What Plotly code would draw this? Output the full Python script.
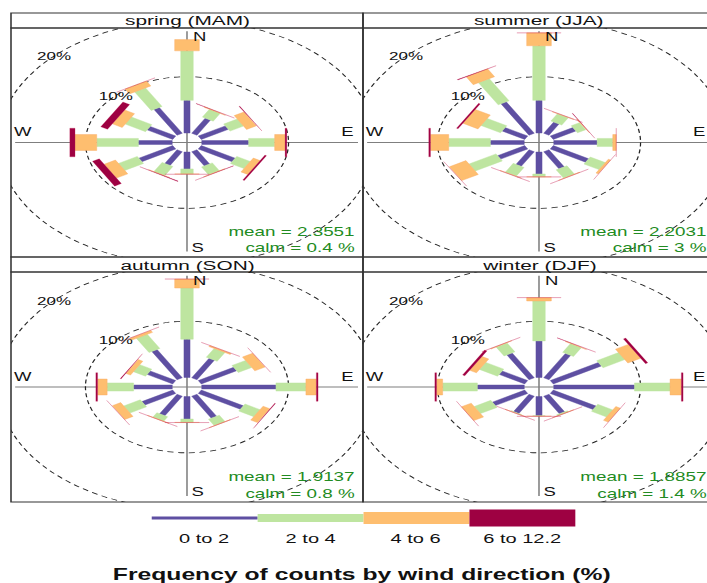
import numpy as np
import plotly.graph_objects as go

# ---------------------------------------------------------------- data
# wind direction sectors, degrees clockwise from north
directions = [0, 30, 60, 90, 120, 150, 180, 210, 240, 270, 300, 330]

# frequency (%) of counts in each wind-speed interval, per sector
spring_0_2 = [5.8, 3.1, 3.6, 5.4, 4.5, 2.9, 3.0, 2.8, 4.5, 3.9, 3.4, 5.3]
spring_2_4 = [8.8, 1.6, 1.8, 3.0, 1.8, 1.6, 0.9, 1.9, 2.5, 4.8, 2.7, 3.8]
spring_4_6 = [2.0, 0.1, 1.3, 1.2, 0.9, 0.05, 0.05, 0.05, 1.5, 2.5, 1.3, 1.0]
spring_6_12 = [0.0, 0.05, 0.1, 0.2, 0.2, 0.05, 0.05, 0.1, 0.9, 0.6, 0.9, 0.05]

summer_0_2 = [5.8, 2.3, 3.0, 5.0, 4.7, 3.5, 3.9, 3.0, 3.6, 3.9, 3.0, 6.45]
summer_2_4 = [9.7, 1.5, 1.1, 1.8, 2.0, 1.7, 0.5, 1.8, 3.6, 4.8, 2.6, 4.55]
summer_4_6 = [2.3, 0.05, 0.1, 0.4, 0.3, 0.05, 0.02, 0.05, 2.2, 2.1, 2.0, 1.6]
summer_6_12 = [0.1, 0.05, 0.05, 0.05, 0.05, 0.05, 0.02, 0.05, 0.1, 0.2, 0.2, 0.1]

autumn_0_2 = [6.8, 4.0, 4.7, 8.55, 5.6, 4.5, 4.0, 4.0, 4.1, 4.45, 3.4, 5.8]
autumn_2_4 = [9.1, 1.8, 1.8, 3.45, 2.0, 1.3, 0.6, 0.9, 2.2, 3.05, 1.6, 2.9]
autumn_4_6 = [1.6, 0.2, 1.35, 1.2, 0.9, 0.05, 0.02, 0.05, 1.1, 1.1, 0.6, 0.4]
autumn_6_12 = [0.1, 0.05, 0.1, 0.2, 0.1, 0.02, 0.02, 0.02, 0.1, 0.2, 0.1, 0.05]

winter_0_2 = [6.5, 5.0, 6.4, 9.3, 5.7, 3.6, 3.4, 3.55, 4.3, 5.4, 3.4, 5.1]
winter_2_4 = [7.1, 1.8, 2.9, 4.1, 2.0, 0.2, 0.1, 0.1, 2.2, 4.0, 2.4, 1.8]
winter_4_6 = [0.6, 0.1, 1.7, 1.3, 0.6, 0.02, 0.02, 0.03, 1.3, 0.7, 0.9, 0.1]
winter_6_12 = [0.02, 0.03, 0.3, 0.2, 0.05, 0.02, 0.02, 0.02, 0.1, 0.2, 0.3, 0.03]

season_titles = ["spring (MAM)", "summer (JJA)", "autumn (SON)", "winter (DJF)"]
mean_speed = ["2.3551", "2.2031", "1.9137", "1.8857"]
calm_pct = ["0.4", "3", "0.8", "1.4"]

interval_labels = ["0 to 2", "2 to 4", "4 to 6", "6 to 12.2"]
interval_colours = ["#5E4FA2", "#BEE5A0", "#FEBE6F", "#9E0142"]
interval_edges = ["rgba(94,79,162,0.6)", "rgba(190,229,160,0.6)",
                  "rgba(250,170,100,0.55)", "rgba(200,40,90,0.32)"]
grid_levels = [10, 20]
key_title = "Frequency of counts by wind direction (%)"

season_data = [
    [spring_0_2, spring_2_4, spring_4_6, spring_6_12],
    [summer_0_2, summer_2_4, summer_4_6, summer_6_12],
    [autumn_0_2, autumn_2_4, autumn_4_6, autumn_6_12],
    [winter_0_2, winter_2_4, winter_4_6, winter_6_12],
]

# ---------------------------------------------------------------- geometry
W_OUT = 707                   # displayed page width
W0 = 458                      # drawing width before the horizontal stretch
H0 = 583
STRETCH = W_OUT / W0
K = 5.623                     # pixels per percent
OFFSET = 1.7                  # radius of the empty hub, in %
HALF_WIDTHS = [0.35, 0.72, 1.42, 2.55]   # paddle half widths per interval, in %
FONT = "Liberation Sans, Arial, Helvetica, sans-serif"

col_edges = [11 / STRETCH, 363 / STRETCH, 715 / STRETCH]
row_edges = [(28, 257), (272, 502)]
strip_rows = [(13, 28), (257, 272)]
panel_pos = [(0, 0), (1, 0), (0, 1), (1, 1)]   # (column, row) of each season

half_x = (col_edges[1] - col_edges[0]) / 2 / K


def paddle(theta_deg, lo, hi, w):
    t = np.radians(theta_deg)
    s, c = np.sin(t), np.cos(t)
    l1, l2 = lo + OFFSET, hi + OFFSET
    xs = [l1 * s - w * c, l1 * s + w * c, l2 * s + w * c, l2 * s - w * c, l1 * s - w * c]
    ys = [l1 * c + w * s, l1 * c - w * s, l2 * c - w * s, l2 * c + w * s, l1 * c + w * s]
    return xs, ys


def label(**kw):
    base = dict(showarrow=False, xanchor="center", yanchor="middle")
    base.update(kw)
    return base


fig = go.Figure()
shapes = []
annotations = []

for p, (col, row) in enumerate(panel_pos):
    ax = "" if p == 0 else str(p + 1)
    xd0 = col_edges[col] / W0
    xd1 = min(col_edges[col + 1] / W0, 1.0)
    top, bottom = row_edges[row]
    half_y = (bottom - top) / 2 / K
    x_hi = -half_x + (min(col_edges[col + 1], W0) - col_edges[col]) / K
    fig.update_layout(**{
        f"xaxis{ax}": dict(domain=[xd0, xd1], range=[-half_x, x_hi], visible=False,
                           fixedrange=True),
        f"yaxis{ax}": dict(domain=[1 - bottom / H0, 1 - top / H0], range=[-half_y, half_y],
                           visible=False, fixedrange=True),
    })
    xr, yr = f"x{ax}", f"y{ax}"

    # compass cross
    shapes.append(dict(type="line", xref=xr, yref=yr, x0=-19.8, x1=19.7, y0=0, y1=0,
                       line=dict(color="#7f7f7f", width=1), layer="below"))
    shapes.append(dict(type="line", xref=xr, yref=yr, x0=0, x1=0, y0=-19.4, y1=19.8,
                       line=dict(color="#7f7f7f", width=1), layer="below"))
    # dashed frequency rings
    for g in grid_levels:
        r = g + OFFSET
        shapes.append(dict(type="circle", xref=xr, yref=yr, x0=-r, x1=r, y0=-r, y1=r,
                           line=dict(color="#222222", width=0.8, dash="4px,3px"),
                           layer="below"))
        annotations.append(label(xref=xr, yref=yr, x=-r * np.sqrt(0.5), y=r * np.sqrt(0.5),
                                 text=f"{g}%",
                                 font=dict(family=FONT, size=11, color="#111111")))
    # compass labels
    for lab, lx, ly in [("N", 1.4, 18.85), ("S", 1.15, -18.7), ("W", -18.8, 1.8), ("E", 18.4, 1.8)]:
        annotations.append(label(xref=xr, yref=yr, x=lx, y=ly, text=lab,
                                 font=dict(family=FONT, size=12, color="#111111")))

    # paddles, one trace per speed interval
    series = season_data[p]
    cum = np.zeros(len(directions))
    for j, vals in enumerate(series):
        xs, ys = [], []
        for k, d in enumerate(directions):
            lo, hi = cum[k], cum[k] + vals[k]
            if vals[k] > 0:
                px, py = paddle(d, lo, hi, HALF_WIDTHS[j])
                xs += px + [None]
                ys += py + [None]
        cum = cum + np.array(vals)
        fig.add_trace(go.Scatter(x=xs, y=ys, xaxis=xr, yaxis=yr, mode="lines",
                                 fill="toself", fillcolor=interval_colours[j],
                                 line=dict(color=interval_edges[j], width=0.6),
                                 hoverinfo="skip", showlegend=False))

    # panel frame and strip
    x0p = col_edges[col] / W0
    x1p = col_edges[col + 1] / W0
    st_top, st_bot = strip_rows[row]
    shapes.append(dict(type="rect", xref="paper", yref="paper", x0=x0p, x1=x1p,
                       y0=1 - bottom / H0, y1=1 - top / H0,
                       line=dict(color="#333333", width=1)))
    shapes.append(dict(type="rect", xref="paper", yref="paper", x0=x0p, x1=x1p,
                       y0=1 - st_bot / H0, y1=1 - st_top / H0,
                       line=dict(color="#333333", width=1)))
    annotations.append(label(xref="paper", yref="paper", x=(x0p + x1p) / 2,
                             y=1 - (st_top + st_bot + 1) / 2 / H0,
                             text=season_titles[p],
                             font=dict(family=FONT, size=13.5, color="#111111")))

    # statistics text
    xr_txt = (col_edges[col + 1] - 3.0) / W0
    annotations.append(label(xref="paper", yref="paper", x=xr_txt, y=1 - (bottom - 25) / H0,
                             xanchor="right", text=f"mean = {mean_speed[p]}",
                             font=dict(family=FONT, size=12.2, color="forestgreen")))
    annotations.append(label(xref="paper", yref="paper", x=xr_txt, y=1 - (bottom - 8.5) / H0,
                             xanchor="right", text=f"calm = {calm_pct[p]} %",
                             font=dict(family=FONT, size=12.2, color="forestgreen")))

# speed-interval key
key_x0 = 98.3
key_seg = 68.6
key_y = 518
key_heights = [3, 8, 12, 17]
for j, lab in enumerate(interval_labels):
    a = key_x0 + j * key_seg
    b = a + key_seg
    h = key_heights[j]
    shapes.append(dict(type="rect", xref="paper", yref="paper", x0=a / W0, x1=b / W0,
                       y0=1 - (key_y + h / 2) / H0, y1=1 - (key_y - h / 2) / H0,
                       fillcolor=interval_colours[j], line=dict(width=0)))
    annotations.append(label(xref="paper", yref="paper", x=(a + b) / 2 / W0, y=1 - 538 / H0,
                             text=lab, font=dict(family=FONT, size=13, color="#111111")))

annotations.append(label(xref="paper", yref="paper", x=234 / W0, y=1 - 574 / H0,
                         text=key_title,
                         font=dict(family=FONT, size=16, color="#111111", weight="bold")))

fig.update_layout(width=W0, height=H0, margin=dict(l=0, r=0, t=0, b=0),
                  paper_bgcolor="white", plot_bgcolor="white",
                  shapes=shapes, annotations=annotations, showlegend=False)

stretch_js = """
var gd = document.getElementById('{plot_id}');
document.body.style.margin = '0';
document.body.style.overflow = 'hidden';
gd.style.transformOrigin = '0 0';
gd.style.transform = 'scaleX(%.5f)';
""" % STRETCH

fig.write_html("out.html", config={"displayModeBar": False}, post_script=stretch_js)
